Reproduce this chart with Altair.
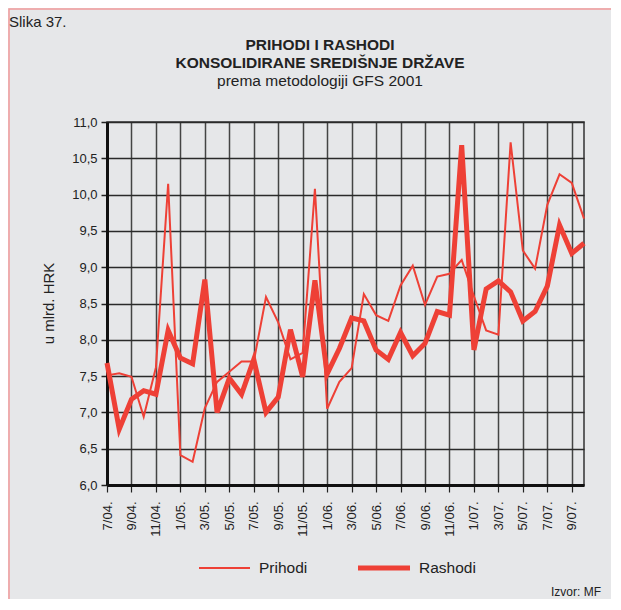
import altair as alt
import pandas as pd

months = ["7/04.", "8/04.", "9/04.", "10/04.", "11/04.", "12/04.",
          "1/05.", "2/05.", "3/05.", "4/05.", "5/05.", "6/05.", "7/05.", "8/05.", "9/05.", "10/05.", "11/05.", "12/05.",
          "1/06.", "2/06.", "3/06.", "4/06.", "5/06.", "6/06.", "7/06.", "8/06.", "9/06.", "10/06.", "11/06.", "12/06.",
          "1/07.", "2/07.", "3/07.", "4/07.", "5/07.", "6/07.", "7/07.", "8/07.", "9/07.", "10/07."]

prihodi = [7.51, 7.54, 7.49, 6.94, 7.62, 10.15, 6.41, 6.32, 7.06, 7.42, 7.56, 7.70, 7.70, 8.59, 8.24,
           7.73, 7.82, 10.08, 7.05, 7.42, 7.61, 8.63, 8.34, 8.26, 8.75, 9.02, 8.48, 8.87, 8.91, 9.10,
           8.60, 8.13, 8.07, 10.72, 9.23, 8.98, 9.86, 10.28, 10.16, 9.67]

rashodi = [7.68, 6.77, 7.18, 7.30, 7.25, 8.13, 7.75, 7.67, 8.83, 7.00, 7.47, 7.25, 7.73, 7.00, 7.21,
           8.14, 7.49, 8.82, 7.53, 7.88, 8.30, 8.26, 7.86, 7.73, 8.10, 7.78, 7.95, 8.39, 8.34, 10.68,
           7.86, 8.70, 8.81, 8.66, 8.26, 8.39, 8.74, 9.58, 9.19, 9.33]

y_ticks = [6.0, 6.5, 7.0, 7.5, 8.0, 8.5, 9.0, 9.5, 10.0, 10.5, 11.0]

RED = "#ee4036"
BG = "#e6e7e9"
FONT = "Liberation Sans"

df = pd.DataFrame({
    "mjesec": months * 2,
    "serija": ["Prihodi"] * len(months) + ["Rashodi"] * len(months),
    "vrijednost": prihodi + rashodi,
})
one = pd.DataFrame({"k": [0]})

x_enc = alt.X("mjesec:O",
              scale=alt.Scale(domain=months, type="point", padding=0),
              axis=alt.Axis(values=months[::2], labelAngle=-90, title=None,
                            labelFont=FONT, labelFontSize=13, labelColor="#222",
                            tickSize=7, tickColor="#222", tickWidth=1.2,
                            labelPadding=9, domainColor="#111", domainWidth=3,
                            grid=True, gridColor="#444", gridWidth=1.5))
y_enc = alt.Y("vrijednost:Q",
              scale=alt.Scale(domain=[6, 11], nice=False, zero=False),
              axis=alt.Axis(values=y_ticks, title=None,
                            labelExpr="replace(format(datum.value, '.1f'), '.', ',')",
                            labelFont=FONT, labelFontSize=13, labelColor="#222",
                            tickSize=6, tickColor="#222", tickWidth=1.5,
                            labelPadding=4, domainColor="#111", domainWidth=3,
                            grid=True, gridColor="#2a2a2a", gridWidth=1.5))

base = alt.Chart(df)
thick = base.transform_filter(alt.datum.serija == "Rashodi").mark_line(
    color=RED, strokeWidth=5, strokeJoin="miter").encode(x=x_enc, y=y_enc)
thin = base.transform_filter(alt.datum.serija == "Prihodi").mark_line(
    color=RED, strokeWidth=2, strokeJoin="miter").encode(x=x_enc, y=y_enc)


def txt(s, x, y, size, weight="normal", align="left", angle=0):
    return alt.Chart(one).mark_text(text=s, font=FONT, fontSize=size, fontWeight=weight,
                                    align=align, baseline="middle", color="#222",
                                    angle=angle, clip=False).encode(
        x=alt.value(x), y=alt.value(y))


texts = [
    txt("Slika 37.", -98, -100, 15),
    txt("PRIHODI I RASHODI", 213, -77, 15.5, "bold", "center"),
    txt("KONSOLIDIRANE SREDIŠNJE DRŽAVE", 213, -59, 15.5, "bold", "center"),
    txt("prema metodologiji GFS 2001", 213, -41, 15.5, "normal", "center"),
    txt("u mlrd. HRK", -58, 181.5, 15, "normal", "center", 270),
    txt("Prihodi", 152, 446, 15.5),
    txt("Rashodi", 312, 446, 15.5),
    txt("Izvor: MF", 494, 470, 12, "normal", "right"),
]

leg_thin = alt.Chart(one).mark_rule(color=RED, strokeWidth=2).encode(
    x=alt.value(92), x2=alt.value(143), y=alt.value(446))
leg_thick = alt.Chart(one).mark_rule(color=RED, strokeWidth=5).encode(
    x=alt.value(251), x2=alt.value(303), y=alt.value(446))

border = alt.Chart(one).mark_rect(fill=None, stroke="#f19a9a", strokeWidth=1.5, clip=False).encode(
    x=alt.value(-98), x2=alt.value(520), y=alt.value(-113), y2=alt.value(495))

chart = alt.layer(border, thick, thin, leg_thin, leg_thick, *texts).properties(
    width=477, height=363,
    padding={"left": 99, "top": 114, "right": 27, "bottom": 114},
    autosize=alt.AutoSizeParams(type="none"),
    background=BG,
).configure_view(stroke="#333", strokeWidth=1.5, fill=BG)

chart.save("out.html", embed_options={"renderer": "svg", "actions": False})
